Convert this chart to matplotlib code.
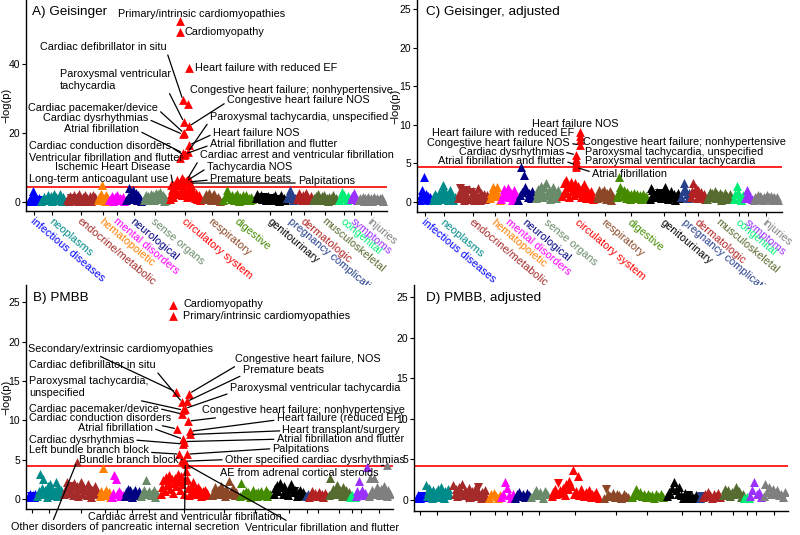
import numpy as np
import matplotlib.pyplot as plt
import matplotlib.transforms as mtransforms

plt.rcParams['font.family'] = ['Liberation Sans', 'DejaVu Sans']

# phecode categories, in plotting order
categories = ["infectious diseases", "neoplasms", "endocrine/metabolic", "hematopoietic",
              "mental disorders", "neurological", "sense organs", "circulatory system",
              "respiratory", "digestive", "genitourinary", "pregnancy complications",
              "dermatologic", "musculoskeletal", "congenital", "symptoms", "injuries"]
cat_colors = ["#0000FF", "#008B8B", "#A52A2A", "#FF7F00", "#FF00FF", "#000080", "#698B69",
              "#FF0000", "#8B4726", "#458B00", "#000000", "#27408B", "#B22222", "#556B2F",
              "#00EE76", "#9B30FF", "#7F7F7F"]

# number of phecodes per category (x index span)
geis_sizes = [60, 125, 165, 55, 85, 85, 130, 175, 95, 165, 165, 45, 80, 135, 60, 35, 140]
pmbb_sizes = [40, 135, 190, 60, 65, 85, 90, 270, 140, 175, 175, 10, 100, 115, 25, 65, 120]

# background -log(p) per category; negative sign = negative effect (down triangle)
geis_raw = [
    [0.3, 0.8, 1.2, 0.5, 3.3, 1.5, 0.2, 0.9, -0.6, 1.1],
    [0.4, 1.0, 1.6, 0.7, -0.5, 1.3, 2.0, 0.6, 1.8, 0.3, 1.1, 2.4, 0.8, 1.5, -0.9, 0.5, 2.2, 1.0, 0.3, 1.4],
    [0.6, 1.3, 0.4, 1.7, -1.1, 0.8, 2.0, 0.5, 1.2, 1.6, 0.3, 2.3, -0.7, 1.0, 1.5, 0.4, 1.9, 0.9, 1.3, 0.6,
     1.7, 0.2, 1.1, 2.1, 0.7, 1.4],
    [0.5, 1.6, 2.4, 4.9, 1.2, 0.4, 2.0, 0.9],
    [0.6, 1.2, 1.8, 0.4, 1.5, 0.9, 2.1, 0.5, 1.3, 0.8, 1.6, 0.3],
    [0.5, 1.4, 4.2, 2.0, 0.8, 3.6, 1.7, 2.6, 0.6, 1.9, 1.1, 0.4],
    [0.7, 1.5, 2.1, 0.9, 1.8, 0.5, 2.4, 1.2, 1.9, 0.6, 2.7, 1.4, 2.2, 0.8, 3.0, 1.6, 2.0, 0.4, 1.3, 0.7],
    [1.0, 2.2, 3.5, 1.6, 4.2, 2.8, 5.3, 3.1, 6.5, 2.4, 4.8, 5.9, 3.6, 7.0, 2.0, 4.4, 6.2, 3.0, 5.6, 1.5,
     4.0, 6.8, 2.6, 3.8, 5.0, 1.8, 3.2, 2.1, 1.2, 2.5, 0.8, 1.6, 2.0, 0.6, 1.1],
    [0.8, 1.6, 2.2, 1.0, 2.6, 1.3, 0.5, 1.9, 2.3, 1.1, 0.6, 1.5, 0.9, 0.4],
    [0.6, 1.4, 2.1, 3.5, 2.4, 1.6, 0.9, 2.0, 1.2, 0.5, 1.7, 2.2, 1.0, 0.4, 1.5, 0.8, 1.9, 0.6, 1.3, 2.0,
     0.7, 1.1, 0.5, 1.6, 0.9],
    [1.2, 2.3, 1.6, -1.0, 2.0, 0.8, -1.4, 1.5, 0.6, -0.9, 1.8, 1.1, -1.2, 0.7, 1.4, 0.5, 1.9, -0.8, 1.0,
     0.4, 1.6, 2.1, 0.8, 1.3, 0.5],
    [1.3, 2.2, 3.4, 1.6, 0.7, -1.0, 1.1],
    [0.8, 1.6, 2.5, 1.2, 0.5, 2.0, 1.4, 2.6, 0.9, 1.3, 0.6, 1.8],
    [0.6, 1.2, 1.8, 0.9, 2.2, 1.4, 0.5, 1.7, 1.0, 2.0, 0.7, 1.3, 0.4, 1.6, 1.1, 0.8, 1.9, 0.5, 1.2, 0.7],
    [0.7, 1.5, 2.8, 2.0, 1.2, 0.5, 1.8, 0.9],
    [0.8, 1.7, 2.5, 1.3, 0.6],
    [0.5, 1.1, 0.8, 1.5, 0.4, 1.2, 0.9, 1.6, 0.6, 1.3, 0.3, 1.0, 1.4, 0.7, 1.1, 0.5, 1.3, 0.8, 1.2, 0.4],
]
geis_adj = [
    [0.3, 0.9, 1.5, 0.6, 3.3, 1.0, 0.4, 0.8, 0.2, 0.6],
    [0.3, 0.8, 1.0, 0.5, 0.2, 0.7, 1.1, 0.4, 1.6, 2.2, 0.9, 1.4, 0.6, 0.3, 1.0, 1.5, 0.5, 0.8, 0.2, 0.6],
    [0.5, 1.2, -1.8, 0.8, 1.5, 0.3, -1.6, 1.0, 0.6, 1.7, 0.4, -1.3, 0.9, 1.4, 0.2, 1.1, 0.7, 1.8, 0.5, 0.3,
     1.2, 0.8, 1.0, 0.4, 0.6, 0.9],
    [0.5, 1.2, 2.0, 1.6, 0.8, 2.0, 1.0, 0.3],
    [0.4, 1.0, 1.7, 0.8, 1.4, 1.8, 0.6, 1.2, 0.3, 1.5, 0.9, 0.5],
    [0.3, 0.9, 4.5, 1.3, 3.5, 2.0, 1.6, 0.7, 1.1, 0.5, 1.4, 0.8],
    [0.5, 1.1, 1.7, 0.8, 2.1, 1.4, 0.6, 1.9, 2.4, 1.2, 0.9, 1.6, 0.4, 1.3, 2.0, 0.7, 1.0, 0.5, 1.5, 0.8],
    [0.8, 2.5, 1.6, 2.8, 1.2, 2.2, 0.6, 1.9, 2.6, 1.4, 2.0, 0.9, 2.4, 1.7, 1.1, 2.1, 1.5, 0.7, 1.8, 1.0,
     2.3, 1.3, 0.5, 1.6, 0.9, 1.2, 0.6, 1.4, 0.8, 0.4],
    [0.5, 1.0, 1.6, 0.7, 1.3, 0.9, 1.5, 0.4, 1.1, 0.8, 1.4, 0.3, 0.9, 0.6],
    [0.6, 1.2, 3.2, 2.0, 1.5, 0.8, 1.6, 1.1, 0.5, 1.3, 0.9, 0.4, 1.0, 0.7, 1.2, 0.5, 0.8, 1.0, 0.6, 0.9,
     0.4, 0.7, 1.0, 0.5, 0.8],
    [0.4, 1.8, 1.5, 1.0, 0.6, -0.9, 1.3, 0.8, -1.2, 0.5, 1.1, 0.7, 1.6, 2.0, 1.2, 0.4, 0.9, -0.7, 1.4,
     0.6, 1.0, 0.3, 0.8, 1.2, 0.5],
    [0.6, 1.4, 2.4, 1.7, 1.0, 0.5, 1.2],
    [0.7, 1.4, 2.4, 1.1, 1.8, 0.5, 1.5, 0.9, 1.3, 0.6, 1.0, 0.4],
    [0.4, 0.9, 1.3, 0.6, 1.1, 0.8, 1.4, 0.5, 1.0, 0.7, 1.2, 0.3, 0.9, 0.6, 1.1, 0.4, 0.8, 0.5, 1.0, 0.6],
    [0.4, 1.0, 2.1, 1.3, 0.7, 0.3, 0.9, 0.5],
    [0.5, 1.5, 1.0, 0.7, 0.4],
    [0.3, 0.7, 0.5, 0.9, 0.4, 0.8, 0.6, 0.3, 0.7, 0.5, 0.9, 0.4, 0.6, 0.8, 0.3, 0.5, 0.7, 0.4, 0.6, 0.3],
]
pmbb_raw = [
    [0.3, 0.6, -0.4, 0.5, 0.2, 0.7],
    [0.4, 1.0, 3.2, 0.6, 1.4, 2.5, 0.8, 1.2, 0.3, 1.6, 0.9, 1.9, 0.5, 1.3, 0.7, 1.0, 2.2, 0.4, 1.5, 0.8, 1.1],
    [0.6, 1.4, 2.1, 0.8, 1.8, 1.2, -1.6, 0.5, 2.0, 1.5, 0.9, 1.7, 0.4, 1.3, 2.2, 0.7, 1.6, -1.0, 1.1, 0.5,
     1.9, 0.8, 1.4, 0.3, 1.2, 0.9, 1.6, 0.6, 1.0],
    [0.4, 1.0, 3.9, 0.7, 1.2, 0.5, 0.9, 0.3],
    [0.3, 0.8, 3.1, 2.6, 0.6, 1.0, 0.4, 0.7, 0.5],
    [0.4, 0.9, 1.3, 0.6, 1.1, 0.3, 0.8, 1.2, 0.5, 0.7, 1.0],
    [0.4, 0.9, 1.2, 2.4, 0.6, 1.0, 0.5, 0.8, 1.1, 0.3, 0.7],
    [0.6, 1.5, 2.4, 1.0, 2.8, 1.8, 2.2, 3.0, 1.3, 2.5, 0.8, 2.0, 2.7, 1.6, 3.2, 2.3, 1.1, 2.9, 1.9, 0.7,
     2.4, 3.6, 2.6, 1.4, 0.5, 1.7, 1.0, 2.1, 0.8, 1.3, 0.6, 1.5, 0.9, 1.2, 0.4, 1.0, 0.7, 1.1, 0.5, 0.8],
    [0.5, 1.0, 1.5, 0.7, 1.2, 0.9, 1.6, 0.6, 1.1, 0.4, 1.3, 0.8, 2.3, 1.0, 0.6, 1.4, 0.5, 0.9],
    [0.4, 2.0, 0.8, 0.6, 1.0, 0.5, 0.9, 0.3, 0.7, 1.1, 0.5, 0.8, 0.4, 0.9, 0.6, 1.0, 0.5, 0.7, 1.2, 0.4,
     0.8, 0.6],
    [0.6, 1.4, 1.8, 1.0, 2.0, 1.5, 0.7, 1.7, 1.2, -0.8, 0.5, 1.3, 1.9, 0.9, -1.0, 1.1, 0.4, 0.8, 1.2, 0.6,
     0.9, 0.5],
    [0.4, 0.7],
    [0.3, 0.6, 1.0, 0.5, 0.8, 0.4, 0.9, 0.6, 0.7, 0.3, 0.8, 0.5],
    [0.5, 2.7, 0.9, 1.3, 0.6, 1.0, 1.8, 0.7, 1.2, 0.4, 1.5, 0.8, 1.1, 0.5, 0.9],
    [0.2, 0.5, 0.3],
    [0.4, 1.0, 2.3, 0.7, 1.2, 0.5, 0.8, 4.1],
    [0.4, 2.7, 1.2, 0.8, 2.7, 0.6, 1.5, 1.0, 0.5, 1.3, 0.9, 1.7, 0.7, 0.4, 1.1, 0.6],
]
pmbb_adj = [
    [0.3, 0.6, 0.2, -0.5, 0.4],
    [1.8, 0.5, 1.0, 1.5, 0.7, 0.3, 1.2, 0.6, 1.0, 0.4, 1.3, 0.8, 1.6, 0.5, 0.9, 0.3, 1.1, 0.6, 1.4, 0.7],
    [1.9, 0.8, 1.4, 0.5, 1.6, 1.0, 2.0, 0.6, 1.2, -0.3, 0.9, 1.5, 0.4, 1.1, 0.7, 1.3, 0.5, -1.6, 0.9, 0.3,
     1.0, 0.6, 1.2, 0.4],
    [0.3, 0.7, 0.9, 0.5, 0.2, 0.6],
    [0.4, 0.8, 2.2, 1.5, 0.6, 0.3, 0.7],
    [0.3, 0.7, 1.0, 0.5, 0.8, 0.4, 0.9, 0.6],
    [0.4, 0.8, 1.2, 0.6, 1.0, 0.3, 1.1, 0.7],
    [0.5, 1.0, 1.4, 0.7, -2.1, 1.2, 0.9, 1.5, 0.6, 2.0, 1.3, 2.3, 1.7, 3.7, 0.8, 1.1, 3.0, 0.6, 1.4, 0.9,
     0.5, 1.0, 0.7, 1.2, 0.4, 0.8, 0.6, 1.0, 0.5, 0.3],
    [0.3, -1.3, 0.7, 0.5, 0.9, 0.4, 0.8, 0.6, 0.3, 0.7, 0.5, 0.4],
    [0.4, 0.8, 1.3, 0.6, 1.0, 0.5, 0.7, 0.4, 0.8, 0.5, 0.6, 0.3, 0.7, 0.5, 0.8, 0.4],
    [0.5, 1.0, 0.7, 1.5, 2.2, 1.2, 0.8, 1.6, 0.6, 0.3, 0.9, 0.4, -0.6, 0.2, 0.5, 0.3, 0.6, 0.4],
    [0.3, -0.5],
    [0.4, 0.8, 0.5, 1.0, 0.6, 0.3, 0.7, 0.5, 0.9, 0.4],
    [0.6, 1.3, 0.8, 1.2, 0.5, 1.0, 0.7, 1.6, 0.9, 1.1, 0.4, 0.8],
    [0.2, 0.4, 0.3],
    [0.5, 1.2, 2.2, 0.8, 1.0, 0.4],
    [0.5, 2.0, 1.0, 1.6, 0.7, 1.3, 0.9, 1.2, 0.6, 0.8, 0.4, 1.0],
]

# labelled hits: name, phecode index, -log(p)
hits_a = ["Primary/intrinsic cardiomyopathies", "Cardiomyopathy", "Heart failure with reduced EF",
          "Cardiac defibrillator in situ", "Congestive heart failure; nonhypertensive",
          "Paroxysmal ventricular\ntachycardia", "Congestive heart failure NOS", "Cardiac pacemaker/device",
          "Cardiac dysrhythmias", "Paroxysmal tachycardia, unspecified", "Heart failure NOS",
          "Atrial fibrillation", "Cardiac conduction disorders", "Atrial fibrillation and flutter",
          "Ventricular fibrillation and flutter", "Cardiac arrest and ventricular fibrillation",
          "Tachycardia NOS", "Premature beats", "Palpitations", "Ischemic Heart Disease",
          "Long-term anticoagulant use"]
hx_a = [766, 766, 812, 781, 807, 786, 812, 786, 781, 807, 812, 781, 786, 791, 766, 801, 796, 807, 817, 731, 721]
hp_a = [52.5, 49.3, 38.8, 29.6, 28.4, 23.2, 22.0, 20.0, 19.6, 14.5, 16.5, 14.2, 13.6, 13.9, 12.8,
        6.4, 6.0, 5.8, 5.5, 4.9, 4.9]

hits_c = ["Heart failure NOS", "Heart failure with reduced EF", "Congestive heart failure; nonhypertensive",
          "Congestive heart failure NOS", "Cardiac dysrhythmias", "Paroxysmal tachycardia, unspecified",
          "Paroxysmal ventricular tachycardia", "Atrial fibrillation and flutter", "Atrial fibrillation"]
hx_c = [803, 803, 803, 803, 783, 783, 783, 783, 783]
hp_c = [9.1, 8.6, 8.0, 7.4, 6.1, 5.6, 5.2, 4.8, 4.5]

hits_b = ["Cardiomyopathy", "Primary/intrinsic cardiomyopathies", "Secondary/extrinsic cardiomyopathies",
          "Congestive heart failure, NOS", "Cardiac defibrillator in situ", "Premature beats",
          "Paroxysmal tachycardia,\nunspecified", "Paroxysmal ventricular tachycardia",
          "Cardiac pacemaker/device", "Congestive heart failure; nonhypertensive",
          "Cardiac conduction disorders", "Atrial fibrillation", "Heart failure (reduced EF)",
          "Heart transplant/surgery", "Atrial fibrillation and flutter", "Cardiac dysrhythmias",
          "Left bundle branch block", "Palpitations", "Bundle branch block",
          "Other specified cardiac dysrhythmias", "AE from adrenal cortical steroids",
          "Cardiac arrest and ventricular fibrillation", "Other disorders of pancreatic internal secretion",
          "Ventricular fibrillation and flutter"]
hx_b = [744, 744, 759, 826, 790, 815, 795, 805, 790, 822, 764, 795, 831, 831, 801, 795, 776, 816, 790,
        801, 1837, 806, 250, 811]
hp_b = [24.7, 23.2, 13.6, 13.4, 12.3, 12.4, 11.3, 11.5, 10.8, 9.9, 8.9, 7.6, 8.6, 8.2, 7.3, 7.0, 5.7, 5.7,
        5.0, 4.8, 4.3, 4.6, 4.7, 4.4]
hcat_b = [7] * 20 + [16, 7, 2, 7]

# label layout: (text x, text y, ha, line anchor on text or None)
lay_a = [(877, 54.5, "center", None), (791, 49.3, "left", None), (842, 38.8, "left", None),
         (381, 44.9, "center", (1, 0)), (817, 32.5, "left", None), (161, 35.4, "left", (0.97, 0.05)),
         (1003, 29.6, "left", (0, 0.3)), (0, 27.2, "left", (1, 0.4)), (76, 24.3, "left", (1, 0.4)),
         (917, 24.6, "left", (0, 0.2)), (932, 20.0, "left", (0, 0.4)), (182, 21.2, "left", (1, 0.3)),
         (5, 16.2, "left", (1, 0.4)), (917, 16.8, "left", (0, 0.4)), (5, 12.8, "left", (1, 0.5)),
         (867, 13.6, "left", (0, 0.2)), (902, 10.1, "left", (0, 0.4)), (917, 6.7, "left", (0, 0.4)),
         (1361, 6.1, "left", (0, 0.3)), (136, 10.1, "left", (1, 0.2)), (5, 6.7, "left", (1, 0.5))]
lay_c = [(778, 10.1, "center", None), (773, 8.9, "right", None), (818, 7.8, "left", None),
         (753, 7.6, "right", (1, 0.5)), (723, 6.5, "right", (1, 0.5)), (828, 6.5, "left", None),
         (828, 5.3, "left", None), (728, 5.3, "right", (1, 0.5)), (863, 3.6, "left", (0, 0.7))]
lay_b = [(795, 24.8, "left", None), (795, 23.2, "left", None), (0, 19.1, "left", (0.36, 0)),
         (1060, 17.8, "left", (0.03, 0)), (5, 17.0, "left", (1, 0)), (1100, 16.4, "left", (0, 0)),
         (5, 14.2, "left", (0.47, 0.45)), (1034, 14.1, "left", (0, 0)), (5, 11.5, "left", (1, 0.5)),
         (892, 11.3, "left", (0.18, 0)), (5, 10.3, "left", (0.85, 0)), (255, 9.0, "left", (1, 0.5)),
         (1274, 10.3, "left", (0, 0.3)), (1304, 8.8, "left", (0, 0.4)), (1274, 7.6, "left", (0, 0.5)),
         (5, 7.5, "left", (1, 0.5)), (5, 6.2, "left", (1, 0.3)), (1253, 6.4, "left", (0, 0.5)),
         (260, 5.0, "left", (1, 0.5)), (1009, 5.0, "left", (0, 0.5)), (983, 3.3, "left", (0.7, 0.9)),
         (306, -2.3, "left", (0.5, 1)), (-86, -3.6, "left", (0.18, 1)), (1111, -3.7, "left", (0.3, 1))]


def draw_panel(ax, sizes, bg, thresh, ylim, yticks, title, title_x, ylab_x):
    starts = np.concatenate([[0], np.cumsum(sizes)[:-1]])
    for i, vals in enumerate(bg):
        v = np.array(vals)
        x = np.linspace(starts[i] + sizes[i] * 0.06, starts[i] + sizes[i] * 0.94, len(v))
        up = v >= 0
        ax.scatter(x[up], v[up], marker="^", s=42, color=cat_colors[i], linewidths=0, zorder=2)
        ax.scatter(x[~up], -v[~up], marker="v", s=42, color=cat_colors[i], linewidths=0, zorder=2)
    ax.axhline(thresh, color="red", lw=1.2, zorder=1)
    total = sum(sizes)
    ax.set_xlim(-0.0055 * total, total * 1.0055)
    ax.set_ylim(*ylim)
    ax.set_yticks(yticks)
    ax.set_xticks(starts + np.array(sizes) / 2)
    ax.set_xticklabels([])
    for s in ["top", "right"]:
        ax.spines[s].set_visible(False)
    for s in ["left", "bottom"]:
        ax.spines[s].set_linewidth(1.0)
    ax.tick_params(length=3, width=0.8, labelsize=7.5, pad=1.2, colors="black")
    if ylab_x is not None:
        ax.set_ylabel("\u2212log(p)", fontsize=8)
        ax.yaxis.set_label_coords(ylab_x, 0.5)
    ax.text(title_x, 0.943, title, transform=ax.transAxes, fontsize=9.7, va="center", ha="left")
    return starts


def cat_labels(ax, sizes, starts):
    tr = mtransforms.blended_transform_factory(ax.transData, ax.transAxes)
    for i, name in enumerate(categories):
        ax.text(starts[i] + sizes[i] / 2 + 5, -0.025, name, transform=tr, rotation=-40,
                rotation_mode="anchor", ha="left", va="top", fontsize=7.9, color=cat_colors[i])


def label_hits(ax, names, hx, hp, lay, colors):
    for name, x, p, (tx, ty, ha, rel), c in zip(names, hx, hp, lay, colors):
        ax.scatter([x], [p], marker="^", s=40, color=c, linewidths=0, zorder=3)
        if rel is None:
            ax.text(tx, ty, name, ha=ha, va="center", fontsize=7.8, zorder=4)
        else:
            ax.annotate(name, xy=(x, p), xytext=(tx, ty), ha=ha, va="center", fontsize=7.8,
                        annotation_clip=False, zorder=4,
                        arrowprops=dict(arrowstyle="-", color="black", lw=0.9, relpos=rel,
                                        shrinkA=0, shrinkB=2))


fig = plt.figure(figsize=(8, 5.35), dpi=100)
ax_a = fig.add_axes([26 / 800, 324 / 535, 361 / 800, 211 / 535])
ax_c = fig.add_axes([417 / 800, 323 / 535, 365 / 800, 212 / 535])
ax_b = fig.add_axes([26 / 800, 26 / 535, 367 / 800, 224 / 535])
ax_d = fig.add_axes([414 / 800, 24 / 535, 374 / 800, 226 / 535])

st_a = draw_panel(ax_a, geis_sizes, geis_raw, 4.5, (-2.6, 58.6), [0, 20, 40], "A) Geisinger", 0.017, -0.04)
st_c = draw_panel(ax_c, geis_sizes, geis_adj, 4.5, (-1.3, 26.2), [0, 5, 10, 15, 20, 25],
                  "C) Geisinger, adjusted", 0.025, -0.045)
st_b = draw_panel(ax_b, pmbb_sizes, pmbb_raw, 4.25, (-1.27, 27.2), [0, 5, 10, 15, 20, 25], "B) PMBB",
                  0.019, -0.04)
st_d = draw_panel(ax_d, pmbb_sizes, pmbb_adj, 4.25, (-1.35, 26.5), [0, 5, 10, 15, 20, 25],
                  "D) PMBB, adjusted", 0.032, None)

cat_labels(ax_a, geis_sizes, st_a)
cat_labels(ax_c, geis_sizes, st_c)

label_hits(ax_a, hits_a, hx_a, hp_a, lay_a, ["red"] * len(hits_a))
label_hits(ax_c, hits_c, hx_c, hp_c, lay_c, ["red"] * len(hits_c))
label_hits(ax_b, hits_b, hx_b, hp_b, lay_b, [cat_colors[k] for k in hcat_b])

fig.savefig("out.png", dpi=100)
